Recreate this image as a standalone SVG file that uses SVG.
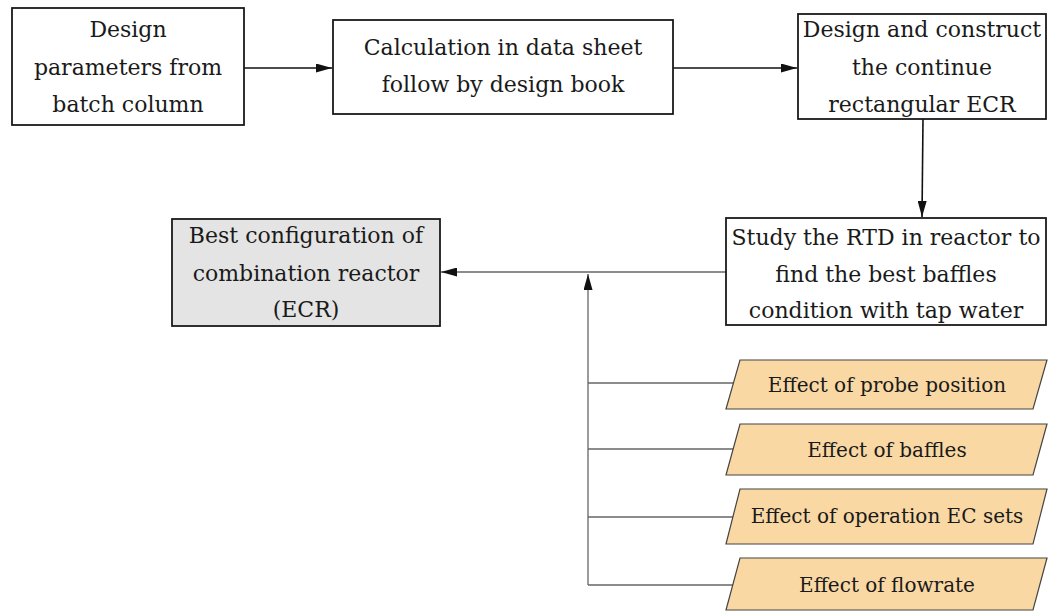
<svg xmlns="http://www.w3.org/2000/svg" width="1048" height="611" viewBox="0 0 1048 611">
  <style>
    .box { fill: #ffffff; stroke: #1a1a1a; stroke-width: 1.8; }
    .result { fill: #e4e4e4; stroke: #1a1a1a; stroke-width: 1.8; }
    .factor { fill: #f9d8a4; stroke: #444444; stroke-width: 1.2; }
    .lbl { font-family: "DejaVu Serif", "Liberation Serif", serif; font-size: 22px; fill: #1a1a1a; text-anchor: middle; }
    .sm { font-size: 20px; }
    .flow { stroke: #111111; stroke-width: 1.6; fill: none; }
    .feed { stroke: #666666; stroke-width: 1.3; fill: none; }
  </style>
  <defs>
    <marker id="arrow" viewBox="0 0 10 10" refX="10" refY="5" markerWidth="16" markerHeight="9" markerUnits="userSpaceOnUse" orient="auto" preserveAspectRatio="none">
      <path d="M0,0 L10,5 L0,10 z" fill="#111111"/>
    </marker>
  </defs>

  <g id="connectors">
    <line class="flow" x1="244" y1="68" x2="332" y2="68" marker-end="url(#arrow)"/>
    <line class="flow" x1="673" y1="68" x2="797" y2="68" marker-end="url(#arrow)"/>
    <line class="flow" x1="923" y1="119" x2="922" y2="217" marker-end="url(#arrow)"/>
    <line class="feed" x1="726" y1="272" x2="441" y2="272" marker-end="url(#arrow)"/>
    <line class="feed" x1="588" y1="585" x2="588" y2="274" marker-end="url(#arrow)"/>
    <line class="feed" x1="588" y1="383" x2="734" y2="383"/>
    <line class="feed" x1="588" y1="449" x2="734" y2="449"/>
    <line class="feed" x1="588" y1="517" x2="734" y2="517"/>
    <line class="feed" x1="588" y1="585" x2="734" y2="585"/>
  </g>

  <g id="design-parameters">
    <rect class="box" x="12" y="8" width="232" height="117"/>
    <text class="lbl" x="128" y="37">Design</text>
    <text class="lbl" x="128" y="75">parameters from</text>
    <text class="lbl" x="128" y="112">batch column</text>
  </g>

  <g id="calculation">
    <rect class="box" x="333" y="20" width="340" height="94"/>
    <text class="lbl" x="503" y="55">Calculation in data sheet</text>
    <text class="lbl" x="503" y="92">follow by design book</text>
  </g>

  <g id="construct-ecr">
    <rect class="box" x="798" y="14" width="248" height="105"/>
    <text class="lbl" x="922" y="37">Design and construct</text>
    <text class="lbl" x="922" y="75">the continue</text>
    <text class="lbl" x="922" y="112">rectangular ECR</text>
  </g>

  <g id="rtd-study">
    <rect class="box" x="726" y="218" width="320" height="107"/>
    <text class="lbl" x="886" y="245">Study the RTD in reactor to</text>
    <text class="lbl" x="886" y="282">find the best baffles</text>
    <text class="lbl" x="886" y="318">condition with tap water</text>
  </g>

  <g id="best-configuration">
    <rect class="result" x="172" y="219" width="268" height="107"/>
    <text class="lbl" x="306" y="243">Best configuration of</text>
    <text class="lbl" x="306" y="281">combination reactor</text>
    <text class="lbl" x="306" y="317">(ECR)</text>
  </g>

  <g id="probe-position">
    <polygon class="factor" points="740,360 1047,360 1033,409 726,409"/>
    <text class="lbl sm" x="887" y="392">Effect of probe position</text>
  </g>

  <g id="baffles">
    <polygon class="factor" points="740,424 1047,424 1033,475 726,475"/>
    <text class="lbl sm" x="887" y="457">Effect of baffles</text>
  </g>

  <g id="operation-sets">
    <polygon class="factor" points="740,489 1047,489 1033,544 726,544"/>
    <text class="lbl sm" x="887" y="523">Effect of operation EC sets</text>
  </g>

  <g id="flowrate">
    <polygon class="factor" points="740,558 1047,558 1033,610 726,610"/>
    <text class="lbl sm" x="887" y="592">Effect of flowrate</text>
  </g>
</svg>
